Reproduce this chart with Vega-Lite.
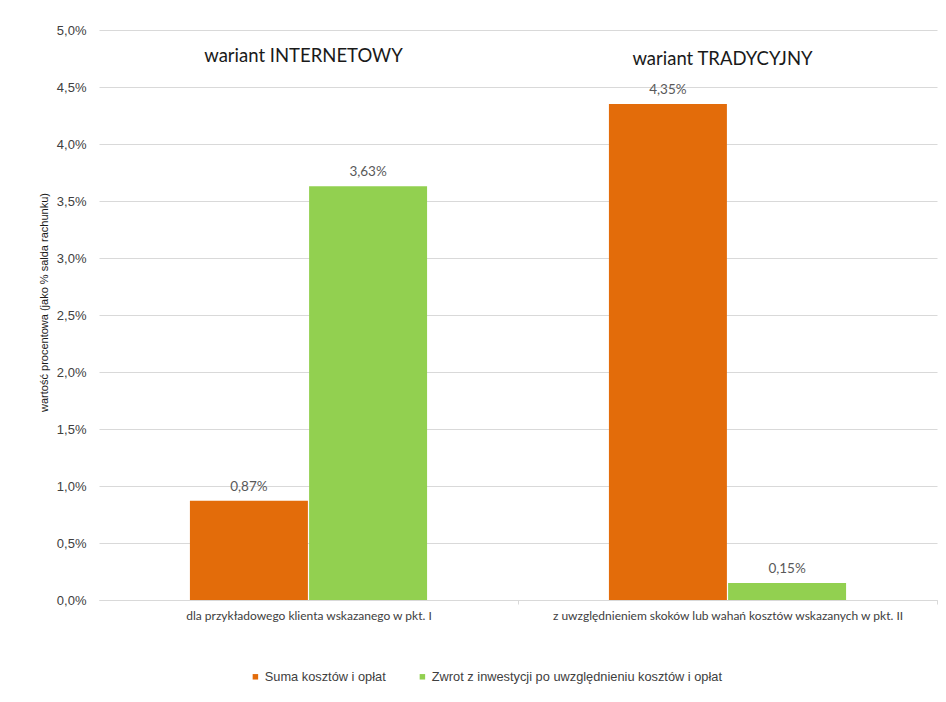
{
  "$schema": "https://vega.github.io/schema/vega-lite/v6.json",
  "autosize": "none",
  "width": 838,
  "height": 570,
  "padding": {"left": 99, "top": 30, "right": 9, "bottom": 102},
  "background": "white",
  "config": {
    "view": {"stroke": null},
    "locale": {"number": {"decimal": ",", "thousands": " ", "grouping": [3], "currency": ["", " zł"]}}
  },
  "datasets": {
    "bars": [
      {"kategoria": "dla przykładowego klienta wskazanego w pkt. I", "seria": "Suma kosztów i opłat", "wartosc": 0.0087},
      {"kategoria": "dla przykładowego klienta wskazanego w pkt. I", "seria": "Zwrot z inwestycji po uwzględnieniu kosztów i opłat", "wartosc": 0.0363},
      {"kategoria": "z uwzględnieniem skoków lub wahań kosztów wskazanych w pkt. II", "seria": "Suma kosztów i opłat", "wartosc": 0.0435},
      {"kategoria": "z uwzględnieniem skoków lub wahań kosztów wskazanych w pkt. II", "seria": "Zwrot z inwestycji po uwzględnieniu kosztów i opłat", "wartosc": 0.0015}
    ],
    "naglowki": [
      {"kategoria": "dla przykładowego klienta wskazanego w pkt. I", "naglowek": "wariant INTERNETOWY", "wartosc": 0.0477},
      {"kategoria": "z uwzględnieniem skoków lub wahań kosztów wskazanych w pkt. II", "naglowek": "wariant TRADYCYJNY", "wartosc": 0.0475}
    ]
  },
  "layer": [
    {
      "data": {"name": "bars"},
      "mark": {"type": "bar"},
      "encoding": {
        "x": {
          "field": "kategoria", "type": "nominal", "sort": null,
          "scale": {"paddingInner": 0.434, "paddingOuter": 0.217},
          "axis": {
            "title": null, "labelAngle": 0, "labelFont": "Lato", "labelFontSize": 12,
            "labelColor": "#404040", "labelPadding": 6, "labelLimit": 420,
            "domainColor": "#d9d9d9", "tickColor": "#d9d9d9", "tickSize": 4,
            "tickOffset": 209.5, "labelOffset": -209.5, "grid": false
          }
        },
        "xOffset": {
          "field": "seria", "type": "nominal", "sort": null,
          "scale": {"paddingInner": 0.01, "paddingOuter": 0}
        },
        "y": {
          "field": "wartosc", "type": "quantitative",
          "scale": {"domain": [0, 0.05], "nice": false},
          "axis": {
            "title": "wartość procentowa (jako % salda rachunku)",
            "titleFont": "Liberation Sans", "titleFontSize": 11, "titleFontWeight": "normal",
            "titleColor": "#1a1a1a", "titleX": -50, "titleY": 272,
            "values": [0, 0.005, 0.01, 0.015, 0.02, 0.025, 0.03, 0.035, 0.04, 0.045, 0.05],
            "format": ".1%", "labelFont": "Liberation Sans", "labelFontSize": 13,
            "labelColor": "#404040", "labelPadding": 13,
            "domain": false, "ticks": false, "gridColor": "#d9d9d9", "gridWidth": 1
          }
        },
        "color": {
          "field": "seria", "type": "nominal", "sort": null,
          "scale": {"domain": ["Suma kosztów i opłat", "Zwrot z inwestycji po uwzględnieniu kosztów i opłat"], "range": ["#E36C0A", "#92D050"]},
          "legend": {
            "title": null, "orient": "none", "direction": "horizontal",
            "legendX": 150, "legendY": 640,
            "symbolType": "square", "symbolSize": 30, "symbolStrokeWidth": 0,
            "labelFont": "Liberation Sans", "labelFontSize": 12.8, "labelColor": "#404040",
            "labelLimit": 500, "columnPadding": 30, "labelOffset": 3
          }
        }
      }
    },
    {
      "data": {"name": "bars"},
      "mark": {"type": "text", "baseline": "bottom", "dy": -7, "font": "Lato", "fontSize": 13.5, "color": "#595959"},
      "encoding": {
        "x": {"field": "kategoria", "type": "nominal", "sort": null},
        "xOffset": {"field": "seria", "type": "nominal", "sort": null},
        "y": {"field": "wartosc", "type": "quantitative"},
        "text": {"field": "wartosc", "type": "quantitative", "format": ".2%"}
      }
    },
    {
      "data": {"name": "naglowki"},
      "mark": {"type": "text", "baseline": "middle", "font": "Lato", "fontSize": 18.5, "color": "#1a1a1a", "dx": -5},
      "encoding": {
        "x": {"field": "kategoria", "type": "nominal", "sort": null},
        "y": {"field": "wartosc", "type": "quantitative"},
        "text": {"field": "naglowek", "type": "nominal"}
      }
    }
  ]
}
